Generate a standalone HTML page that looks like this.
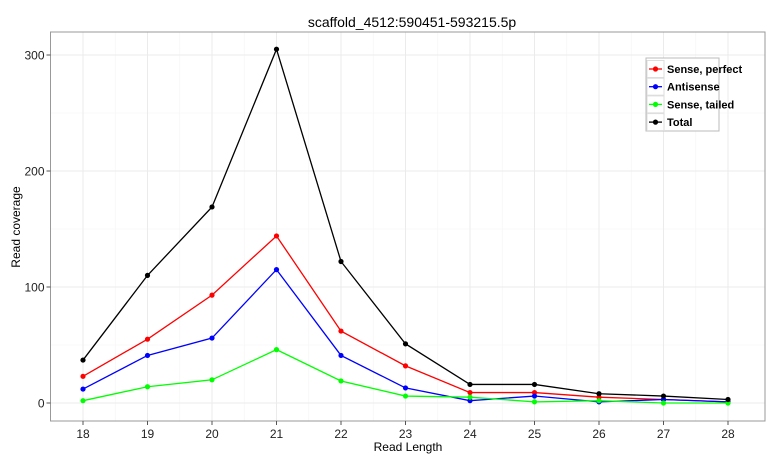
<!DOCTYPE html>
<html><head><meta charset="utf-8"><style>
body{margin:0;background:#fff;font-family:"Liberation Sans",sans-serif}
</style></head><body>
<svg id="c" width="780" height="460" xmlns="http://www.w3.org/2000/svg"></svg>
<script>
const categories=[18,19,20,21,22,23,24,25,26,27,28];
const senseMisc=null;
const sensePerfect=[23,55,93,144,62,32,9,9,5,3,1];
const antisense=[12,41,56,115,41,13,2,6,1,3,1];
const senseTailed=[2,14,20,46,19,6,5,1,2,0,0];
const total=[37,110,169,305,122,51,16,16,8,6,3];
const yTicks=[0,100,200,300];
const seriesNames=["Sense, perfect","Antisense","Sense, tailed","Total"];
const seriesColors=["#ff0000","#0000ff","#00ff00","#000000"];
const seriesData=[sensePerfect,antisense,senseTailed,total];

const NS="http://www.w3.org/2000/svg";
const svg=document.getElementById('c');
const L=50.5,R=765,T=32,B=421;
const x=v=>83+(v-18)*64.5;
const y=v=>403-v*1.16;
function el(t,a,p){const e=document.createElementNS(NS,t);for(const k in a)e.setAttribute(k,a[k]);(p||svg).appendChild(e);return e;}

const panel=el('rect',{x:L,y:T,width:R-L,height:B-T,fill:'#fff',stroke:'none'});


// minor grid
for(let v=50;v<=350;v+=100){const yy=y(v);if(yy>T)el('line',{x1:L,x2:R,y1:yy,y2:yy,stroke:'#f4f4f4','stroke-width':0.6});}
for(let i=0;i<categories.length-1;i++){const xx=x(categories[i]+0.5);el('line',{x1:xx,x2:xx,y1:T,y2:B,stroke:'#f4f4f4','stroke-width':0.6});}
// major grid
yTicks.forEach(v=>{el('line',{x1:L,x2:R,y1:y(v),y2:y(v),stroke:'#ebebeb','stroke-width':1});});
categories.forEach(c=>{el('line',{x1:x(c),x2:x(c),y1:T,y2:B,stroke:'#ebebeb','stroke-width':1});});
el('rect',{x:L,y:T,width:R-L,height:B-T,fill:'none',stroke:'#999','stroke-width':1});
// y ticks
yTicks.forEach(v=>{
  el('line',{x1:L-4,x2:L,y1:y(v),y2:y(v),stroke:'#555'});
  const t=el('text',{x:L-6,y:y(v)+4.5,'text-anchor':'end','font-size':12,fill:'#222'});t.textContent=v;
  
  
});
categories.forEach(c=>{
  el('line',{x1:x(c),x2:x(c),y1:B,y2:B+4,stroke:'#555'});
  const t=el('text',{x:x(c),y:B+17,'text-anchor':'middle','font-size':12,fill:'#222'});t.textContent=c;
  
  
});
// series
seriesData.forEach((d,si)=>{
  const g=el('g',{});
  
  
  el('polyline',{points:d.map((v,i)=>x(categories[i])+','+y(v)).join(' '),fill:'none',stroke:seriesColors[si],'stroke-width':1.3},g);
  d.forEach((v,i)=>{const p=el('circle',{cx:x(categories[i]),cy:y(v),r:2.6,fill:seriesColors[si]},g);
    
    });
});
// titles
let t=el('text',{x:412,y:27,'text-anchor':'middle','font-size':14,fill:'#000'});t.textContent='scaffold_4512:590451-593215.5p';

t=el('text',{x:408,y:451,'text-anchor':'middle','font-size':12,fill:'#000'});t.textContent='Read Length';

t=el('text',{x:0,y:0,'text-anchor':'middle','font-size':12,fill:'#000',transform:'translate(20,227) rotate(-90)'});t.textContent='Read coverage';

// legend
const lg=el('g',{});


el('rect',{x:646,y:58,width:73,height:73,fill:'#fff',stroke:'#bbb'},lg);
seriesNames.forEach((n,i)=>{
  const yy=69+i*17.7;
  const e=el('g',{},lg);
  
  
  el('rect',{x:647,y:yy-8.5,width:17,height:17,fill:'#fff',stroke:'#ddd'},e);
  el('line',{x1:649,x2:662,y1:yy,y2:yy,stroke:seriesColors[i],'stroke-width':1.3},e);
  el('circle',{cx:655.5,cy:yy,r:2.6,fill:seriesColors[i]},e);
  const tt=el('text',{x:667,y:yy+4,'font-size':11,'font-weight':'bold',fill:'#000'},e);tt.textContent=n;
});
</script>
</body></html>
